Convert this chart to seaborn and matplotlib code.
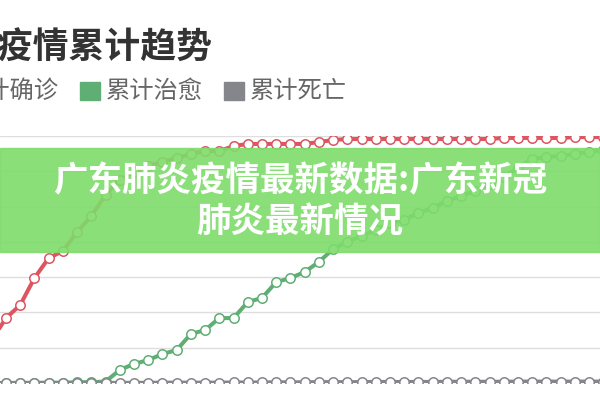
import numpy as np
import pandas as pd
import seaborn as sns
import matplotlib
matplotlib.use('Agg')
from matplotlib import pyplot as plt
from matplotlib.patches import Rectangle

# datos (acumulados)
dias = list(range(44))
confirmados = [244, 368, 442, 595, 708, 748, 856, 947, 1066, 1151, 1196, 1230, 1253, 1275, 1298,
               1315, 1315, 1343, 1355, 1355, 1355, 1355, 1355, 1366, 1377, 1383, 1383, 1383, 1383,
               1383, 1383, 1383, 1383, 1383, 1383, 1383, 1389, 1389, 1389, 1389, 1389, 1394, 1394, 1394]
curados = [0, 0, 1, 1, 2, 2, 4, 5, 8, 74, 108, 130, 164, 187, 278, 300, 368, 368, 459, 482, 572,
           595, 629, 686, 760, 799, 833, 867, 907, 924, 964, 992, 1032, 1060, 1088, 1128, 1168,
           1219, 1270, 1281, 1287, 1298, 1309, 1321]
muertos = [0, 0, 0, 0, 0, 0, 0, 0, 0, 1, 1, 1, 2, 2, 2, 2, 2, 3, 3, 3, 4, 4, 4, 5, 5, 5, 5, 6,
           6, 6, 6, 6, 7, 7, 7, 7, 7, 8, 8, 8, 8, 8, 8, 8]
series = ['累计确诊', '累计治愈', '累计死亡']
colores = ['#dc5560', '#5fae74', '#85858c']

df = pd.DataFrame({'dia': dias * 3,
                   'valor': confirmados + curados + muertos,
                   'serie': [series[0]] * 44 + [series[1]] * 44 + [series[2]] * 44})

sns.set_theme(style='white')
plt.rcParams['font.family'] = ['Noto Sans CJK SC', 'DejaVu Sans']

fig = plt.figure(figsize=(6, 4), dpi=100)
ax = fig.add_axes([0, 0.0425, 1, 0.6175])

for nombre, color in zip(series, colores):
    sns.lineplot(x='dia', y='valor', data=df[df['serie'] == nombre], ax=ax, color=color,
                 linewidth=2.9, marker='o', markersize=6.8, markerfacecolor='white',
                 markeredgecolor=color, markeredgewidth=1.1, legend=False)

ax.set_xlim(0.578, 42.77)
ax.set_ylim(0, 1400)
ax.set_yticks(range(0, 1401, 200))
ax.yaxis.grid(True, color='#dedede', linewidth=1)
ax.set_xlabel('')
ax.set_ylabel('')
ax.tick_params(left=False, bottom=False, labelleft=False, labelbottom=False)
for s in ax.spines.values():
    s.set_visible(False)

# titulo y leyenda
fig.text(212 / 600, 1 - 47 / 400, '全国疫情累计趋势', ha='right', va='center',
         fontsize=25.8, fontweight='bold', color='#333333')
leyenda_x = [-64, 80, 224]
for x0, nombre, color in zip(leyenda_x, series, colores):
    fig.patches.append(Rectangle((x0 / 600, 1 - 100 / 400), 20 / 600, 18 / 400,
                                 transform=fig.transFigure, color=color, figure=fig))
    fig.text((x0 + 26) / 600, 1 - 91 / 400, nombre, ha='left', va='center',
             fontsize=17.5, color='#666666')

# banner verde encima
fig.patches.append(Rectangle((0, 1 - 252 / 400), 1, 104 / 400, transform=fig.transFigure,
                             color='#7edc6b', alpha=0.9, figure=fig, zorder=10))
fig.text(0.5, 1 - 181 / 400, '广东肺炎疫情最新数据:广东新冠', ha='center', va='center',
         fontsize=24.8, fontweight='bold', color='white', zorder=11)
fig.text(0.5, 1 - 222 / 400, '肺炎最新情况', ha='center', va='center',
         fontsize=24.8, fontweight='bold', color='white', zorder=11)

plt.savefig('out.png', dpi=100)
